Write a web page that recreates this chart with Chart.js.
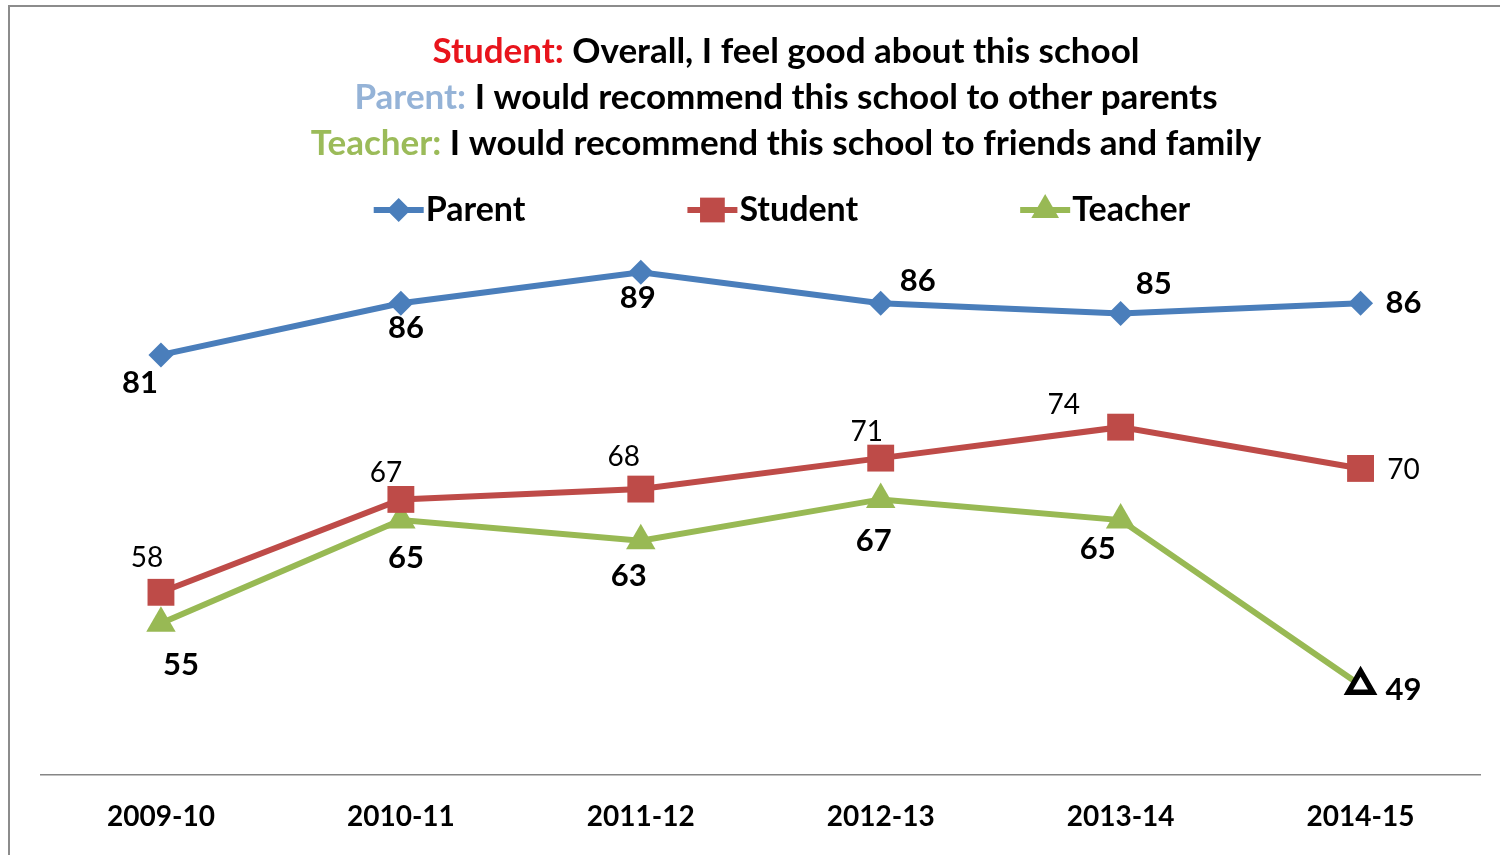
<!DOCTYPE html>
<html>
<head>
<meta charset="utf-8">
<title>Survey results 2009-10 to 2014-15</title>
<script src="https://cdn.jsdelivr.net/npm/chart.js@4.4.0/dist/chart.umd.min.js"></script>
<style>
html, body { margin: 0; padding: 0; background: #fff; }
#wrap { position: relative; width: 1500px; height: 855px; overflow: hidden; }
#frame {
    position: absolute; left: 8px; top: 5px; width: 1600px; height: 900px;
    border-top: 2px solid #8c8c8c; border-left: 2px solid #8c8c8c;
}
#chart { position: absolute; left: 0; top: 0; }
</style>
</head>
<body>
<div id="wrap">
    <div id="frame"></div>
    <canvas id="chart" width="1500" height="855"></canvas>
</div>
<script>
const years = ['2009-10', '2010-11', '2011-12', '2012-13', '2013-14', '2014-15'];
const parentScores = [81, 86, 89, 86, 85, 86];
const studentScores = [58, 67, 68, 71, 74, 70];
const teacherScores = [55, 65, 63, 67, 65, 49];

const titleLines = [
    [['Student: ', '#e8141c'], ['Overall, I feel good about this school', '#000']],
    [['Parent: ', '#95b3d7'], ['I would recommend this school to other parents', '#000']],
    [['Teacher: ', '#9bbb59'], ['I would recommend this school to friends and family', '#000']]
];

const FONT = 'Lato, "Open Sans", sans-serif';
const centerX = 786;

// where each value label sits relative to its point
const labelOffsets = {
    Parent:  [[-21, 28], [5, 25], [-3, 26], [37, -22], [33, -30], [43, 0]],
    Student: [[-14, -34], [-15, -26], [-17, -32], [-14, -26], [-57, -22], [43, 2]],
    Teacher: [[20, 42], [5, 38], [-12, 35], [-7, 42], [-23, 29], [43, 5]]
};

const titlePlugin = {
    id: 'multiColorTitle',
    afterDraw(chart) {
        const ctx = chart.ctx;
        ctx.save();
        ctx.font = 'bold 35px ' + FONT;
        ctx.textBaseline = 'middle';
        ctx.textAlign = 'left';
        titleLines.forEach((parts, i) => {
            const total = parts.reduce((w, p) => w + ctx.measureText(p[0]).width, 0);
            let x = centerX - total / 2;
            const y = 52 + i * 46;
            parts.forEach(([text, color]) => {
                ctx.fillStyle = color;
                ctx.fillText(text, x, y);
                x += ctx.measureText(text).width;
            });
        });
        ctx.restore();
    }
};

const legendPlugin = {
    id: 'lineLegend',
    afterDraw(chart) {
        const ctx = chart.ctx;
        const lineLen = 50, gap = 162, y = 210;
        ctx.save();
        ctx.font = 'bold 34px ' + FONT;
        ctx.textBaseline = 'middle';
        const items = chart.data.datasets.map(ds => ({ds, w: lineLen + 2 + ctx.measureText(ds.label).width}));
        const total = items.reduce((s, it) => s + it.w, 0) + gap * (items.length - 1);
        let x = centerX - 4 - total / 2;
        items.forEach(({ds, w}) => {
            ctx.strokeStyle = ds.borderColor;
            ctx.lineWidth = 6;
            ctx.beginPath();
            ctx.moveTo(x, y);
            ctx.lineTo(x + lineLen, y);
            ctx.stroke();
            ctx.fillStyle = ds.borderColor;
            Chart.helpers.drawPoint(ctx, {
                pointStyle: ds.pointStyle, radius: ds.legendRadius, borderWidth: 0, rotation: 0
            }, x + lineLen / 2, y);
            ctx.fillStyle = '#000';
            ctx.fillText(ds.label, x + lineLen + 2, y);
            x += w + gap;
        });
        ctx.restore();
    }
};

const valueLabels = {
    id: 'valueLabels',
    afterDatasetsDraw(chart) {
        const ctx = chart.ctx;
        ctx.save();
        ctx.textAlign = 'center';
        ctx.textBaseline = 'middle';
        ctx.fillStyle = '#000';
        chart.data.datasets.forEach((ds, di) => {
            const meta = chart.getDatasetMeta(di);
            ctx.font = ds.label === 'Student' ? '28px ' + FONT : 'bold 31px ' + FONT;
            meta.data.forEach((pt, i) => {
                const off = labelOffsets[ds.label][i];
                ctx.fillText(String(ds.data[i]), pt.x + off[0], pt.y + off[1]);
            });
        });
        ctx.restore();
    }
};

const last = teacherScores.length - 1;

new Chart(document.getElementById('chart'), {
    type: 'line',
    data: {
        labels: years,
        datasets: [{
            label: 'Parent',
            data: parentScores,
            borderColor: '#4a7ebb',
            backgroundColor: '#4a7ebb',
            borderWidth: 6,
            pointStyle: 'rectRot',
            pointRadius: 12.5,
            legendRadius: 12,
            pointBackgroundColor: '#4a7ebb',
            pointBorderWidth: 0
        }, {
            label: 'Student',
            data: studentScores,
            borderColor: '#be4b48',
            backgroundColor: '#be4b48',
            borderWidth: 6,
            pointStyle: 'rect',
            pointRadius: 19,
            legendRadius: 17.5,
            pointBackgroundColor: '#be4b48',
            pointBorderWidth: 0
        }, {
            label: 'Teacher',
            data: teacherScores,
            borderColor: '#98b954',
            backgroundColor: '#98b954',
            borderWidth: 6,
            pointStyle: 'triangle',
            legendRadius: 16,
            pointRadius: ctx => ctx.dataIndex === last ? 14 : 17,
            pointBackgroundColor: ctx => ctx.dataIndex === last ? '#fff' : '#98b954',
            pointBorderColor: '#000',
            pointBorderWidth: ctx => ctx.dataIndex === last ? 5.5 : 0
        }]
    },
    options: {
        responsive: false,
        animation: false,
        clip: false,
        layout: { padding: { left: 41, right: 19, top: 262, bottom: 23 } },
        plugins: {
            legend: { display: false },
            title: { display: false },
            tooltip: { enabled: false }
        },
        elements: { line: { tension: 0 } },
        scales: {
            x: {
                offset: true,
                grid: { display: false, drawTicks: false },
                border: { display: true, color: '#868686', width: 1.5 },
                ticks: { color: '#000', padding: 25, font: { family: FONT, size: 28, weight: 'bold' } },
                afterFit(scale) { scale.height = 57; }
            },
            y: { display: false, min: 40.3, max: 90 }
        }
    },
    plugins: [titlePlugin, legendPlugin, valueLabels]
});
</script>
</body>
</html>
